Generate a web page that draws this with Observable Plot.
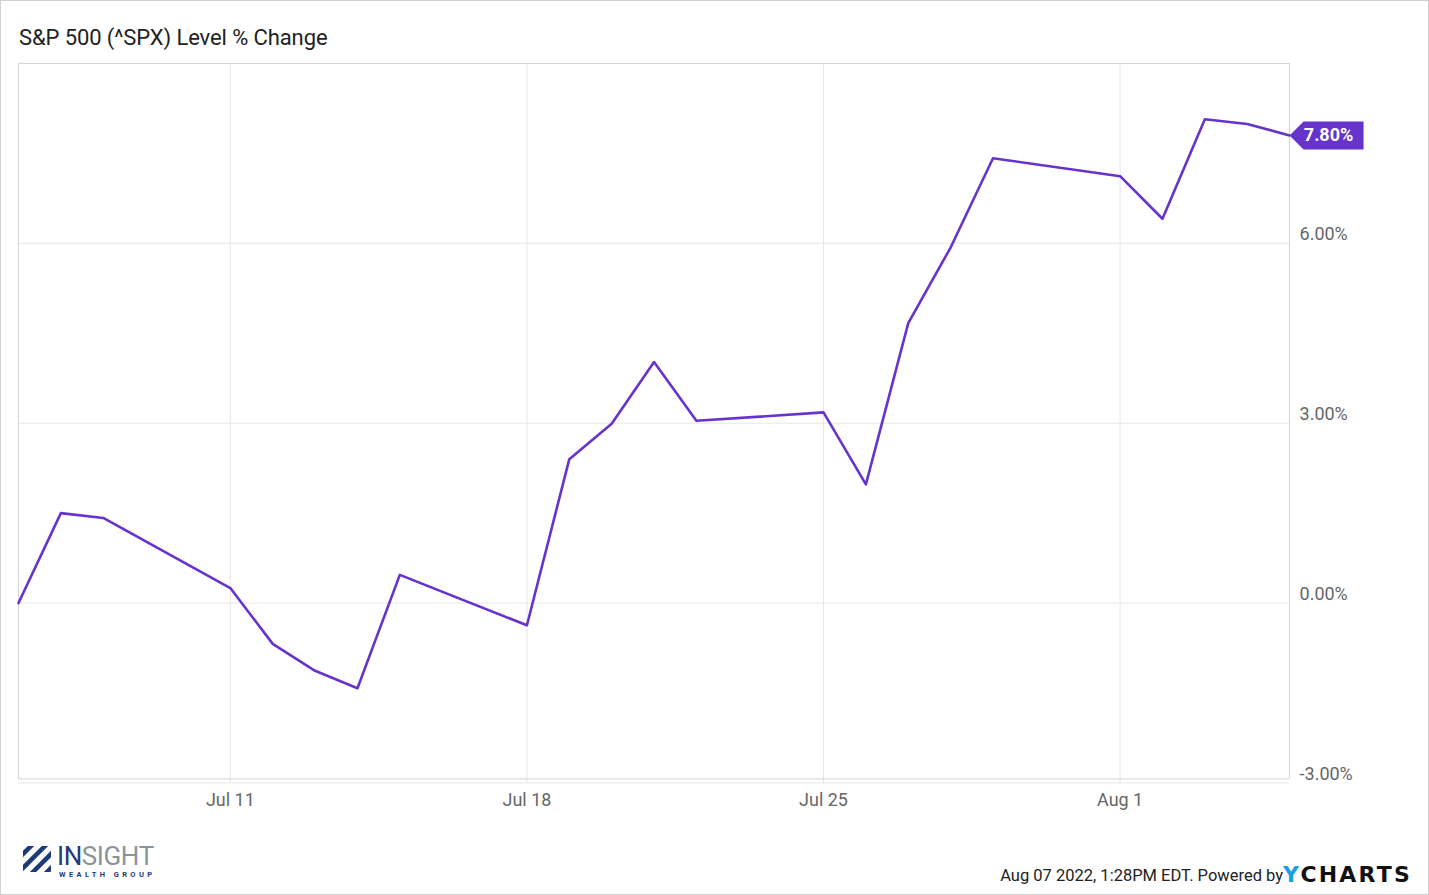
<!DOCTYPE html>
<html>
<head>
<meta charset="utf-8">
<script src="https://cdn.jsdelivr.net/npm/d3@7"></script>
<script src="https://cdn.jsdelivr.net/npm/@observablehq/plot@0.6"></script>
<style>
  html, body { margin: 0; padding: 0; background: #fff; }
  #wrap { position: relative; width: 1427px; height: 893px; border: 1px solid #d0d0d0; overflow: hidden; font-family: Roboto, "Noto Sans", sans-serif; }
  #title { position: absolute; left: 18px; top: 24px; font-size: 22px; color: #222; font-family: Roboto, sans-serif; letter-spacing: -0.1px; }
  #chart { position: absolute; left: -1px; top: -1px; }
  #logo { position: absolute; left: 21px; top: 840px; }
  #credit { position: absolute; right: 16px; top: 861px; font-size: 16.5px; color: #222; white-space: nowrap; }
  #credit b { font-family: "DejaVu Sans", sans-serif; font-weight: bold; font-size: 22px; letter-spacing: 2.2px; color: #111; vertical-align: -1px; }
  #credit b span { color: #1a9ee8; }
</style>
</head>
<body>
<div id="wrap">
  <div id="chart"></div>
  <div id="title">S&amp;P 500 (^SPX) Level % Change</div>
  <div id="logo">
    <svg width="145" height="38" viewBox="0 0 145 38">
      <defs><clipPath id="sq"><rect x="1" y="5" width="28" height="26"/></clipPath></defs>
      <g clip-path="url(#sq)" stroke="#1f3a78" stroke-width="4.5">
        <line x1="-10" y1="24" x2="20" y2="-6"/>
        <line x1="-4" y1="32" x2="28" y2="0"/>
        <line x1="4" y1="38" x2="36" y2="6"/>
        <line x1="12" y1="44" x2="44" y2="12"/>
      </g>
      <text x="35" y="24" font-family="Roboto, sans-serif" font-size="26" fill="#1f3a78" letter-spacing="-0.4">IN<tspan fill="#8b939b">SIGHT</tspan></text>
      <text x="37" y="36" font-family="Roboto, sans-serif" font-size="7.5" font-weight="bold" fill="#1f3a78" letter-spacing="3.4">WEALTH GROUP</text>
    </svg>
  </div>
  <div id="credit">Aug 07 2022, 1:28PM EDT. Powered by<b><span>Y</span>CHARTS</b></div>
</div>
<script>
const dates = ["2022-07-06","2022-07-07","2022-07-08","2022-07-11","2022-07-12","2022-07-13","2022-07-14","2022-07-15",
  "2022-07-18","2022-07-19","2022-07-20","2022-07-21","2022-07-22","2022-07-25","2022-07-26","2022-07-27","2022-07-28",
  "2022-07-29","2022-08-01","2022-08-02","2022-08-03","2022-08-04","2022-08-05"];
const values = [0, 1.50, 1.42, 0.25, -0.68, -1.13, -1.42, 0.47, -0.37, 2.40, 2.99, 4.02, 3.04, 3.18, 1.98, 4.67, 5.93, 7.42, 7.12, 6.41, 8.07, 7.99, 7.80];
const xTicks = ["2022-07-11","2022-07-18","2022-07-25","2022-08-01"];
const xTickLabels = ["Jul 11","Jul 18","Jul 25","Aug 1"];
const yTicks = [-3, 0, 3, 6];
const lastLabel = "7.80%";

const parse = d3.utcParse("%Y-%m-%d");
const data = dates.map((d, i) => ({date: parse(d), value: values[i]}));
const xt = xTicks.map(parse);
const last = data[data.length - 1];
const purple = "#6633cc";
const x0 = parse("2022-07-06"), x1 = parse("2022-08-05");
const yBottom = -2.933, yTop = 9;

const W = 1429, H = 830;
const plot = Plot.plot({
  width: W, height: H,
  marginLeft: 18, marginRight: W - 1290, marginTop: 63, marginBottom: H - 783,
  style: {fontFamily: "Roboto, sans-serif", background: "transparent", overflow: "visible"},
  x: {type: "utc", domain: [x0, x1], axis: null},
  y: {domain: [-3, 9], axis: null},
  marks: [
    Plot.ruleX(xt, {stroke: "#e6e6e6", strokeWidth: 1}),
    Plot.ruleY(yTicks, {stroke: "#e6e6e6", strokeWidth: 1}),
    Plot.ruleX([x0, x1], {y1: yBottom, y2: yTop, stroke: "#d4d4d4", strokeWidth: 1}),
    Plot.ruleY([yBottom, yTop], {stroke: "#d4d4d4", strokeWidth: 1}),
    Plot.text(xt, {x: d => d, frameAnchor: "bottom", dy: 23, text: (d, i) => xTickLabels[i], fill: "#666", fontSize: 18}),
    Plot.text(yTicks, {y: d => d, frameAnchor: "right", dx: 10, dy: -9, textAnchor: "start", text: d => d.toFixed(2) + "%", fill: "#666", fontSize: 18}),
    Plot.line(data, {x: "date", y: "value", stroke: purple, strokeWidth: 2.6, curve: "linear"}),
    Plot.dot([last], {x: "date", y: "value", symbol: {draw(ctx, size) {
        ctx.moveTo(0, 0); ctx.lineTo(14, -14); ctx.lineTo(74, -14); ctx.lineTo(74, 14); ctx.lineTo(14, 14); ctx.closePath();
      }}, r: 5, fill: purple, stroke: "none"}),
    Plot.text([last], {x: "date", y: "value", text: () => lastLabel, dx: 39, textAnchor: "middle", fill: "white", fontWeight: "bold", fontSize: 18})
  ]
});
document.getElementById("chart").appendChild(plot);
</script>
</body>
</html>
